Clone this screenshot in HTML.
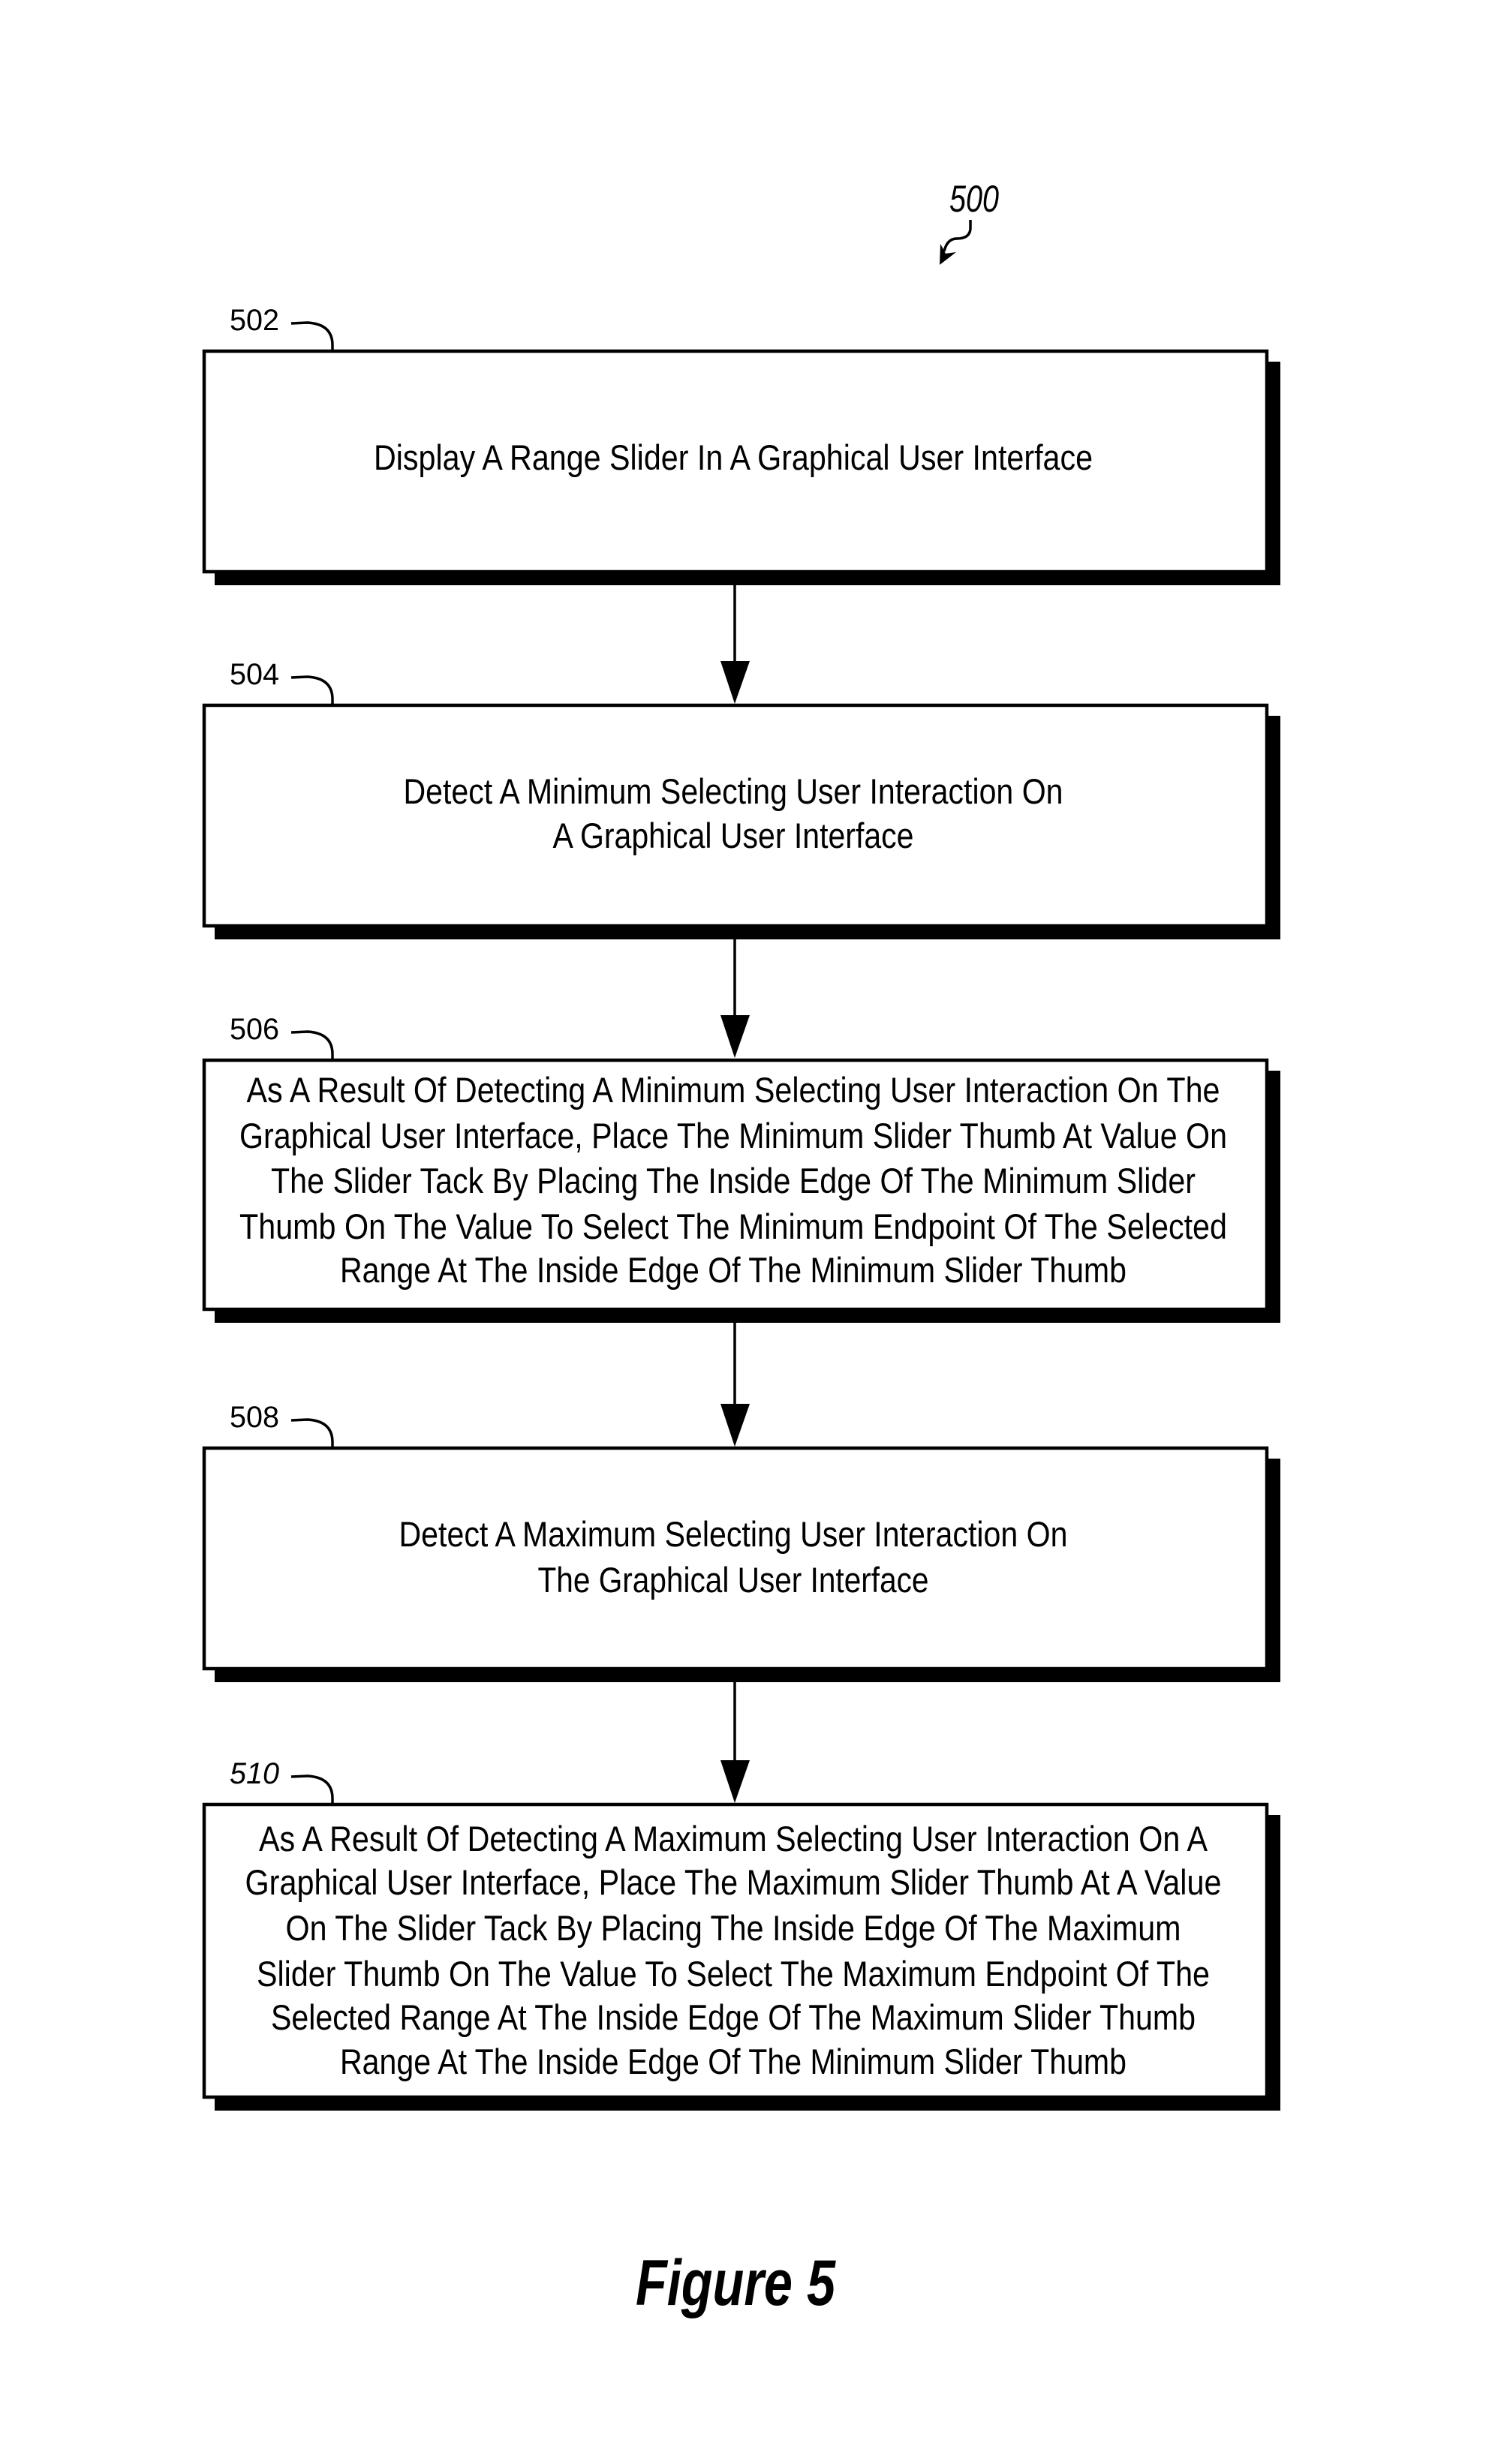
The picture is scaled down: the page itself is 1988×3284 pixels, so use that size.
<!DOCTYPE html>
<html><head><meta charset="utf-8"><style>html,body{margin:0;padding:0;background:#fff}svg{display:block}</style></head>
<body>
<svg width="1988" height="3284" viewBox="0 0 1988 3284" xmlns="http://www.w3.org/2000/svg" font-family="Liberation Sans, Arial, sans-serif">
<rect width="1988" height="3284" fill="#fff"/>
<g fill="#000" stroke="none">
<rect x="286" y="482" width="1420" height="298"/>
<rect x="286" y="954" width="1420" height="298"/>
<rect x="286" y="1427" width="1420" height="336"/>
<rect x="286" y="1944" width="1420" height="298"/>
<rect x="286" y="2419" width="1420" height="394"/>
</g>
<g fill="#fff" stroke="#000" stroke-width="4.5">
<rect x="272" y="468" width="1416" height="294"/>
<rect x="272" y="940" width="1416" height="294"/>
<rect x="272" y="1413" width="1416" height="332"/>
<rect x="272" y="1930" width="1416" height="294"/>
<rect x="272" y="2405" width="1416" height="390"/>
</g>
<g stroke="#000" stroke-width="3.5" fill="none">
<line x1="979" y1="780" x2="979" y2="890"/>
<line x1="979" y1="1252" x2="979" y2="1362"/>
<line x1="979" y1="1763" x2="979" y2="1880"/>
<line x1="979" y1="2242" x2="979" y2="2355"/>
<path d="M388 431 L410 430 Q443 432 443 460 L443 468"/>
<path d="M388 903 L410 902 Q443 904 443 932 L443 940"/>
<path d="M388 1376 L410 1375 Q443 1377 443 1405 L443 1413"/>
<path d="M388 1893 L410 1892 Q443 1894 443 1922 L443 1930"/>
<path d="M388 2368 L410 2367 Q443 2369 443 2397 L443 2405"/>
<path d="M1293 293 L1293 305 Q1292 318 1275 318 Q1262 318 1258 335"/>
</g>
<g fill="#000">
<polygon points="960,881 999,881 979,938"/>
<polygon points="960,1353 999,1353 979,1410"/>
<polygon points="960,1871 999,1871 979,1928"/>
<polygon points="960,2346 999,2346 979,2403"/>
<polygon points="1252,353 1253,325 1260,338 1274,336"/>
</g>
<g font-size="40" fill="#000">
<text x="306" y="440" textLength="66" lengthAdjust="spacingAndGlyphs">502</text>
<text x="306" y="912" textLength="66" lengthAdjust="spacingAndGlyphs">504</text>
<text x="306" y="1385" textLength="66" lengthAdjust="spacingAndGlyphs">506</text>
<text x="306" y="1902" textLength="66" lengthAdjust="spacingAndGlyphs">508</text>
<text x="306" y="2377" textLength="66" lengthAdjust="spacingAndGlyphs" font-style="italic">510</text>
<text x="1265" y="282" font-size="50" font-style="italic" textLength="66" lengthAdjust="spacingAndGlyphs">500</text>
</g>
<g font-size="47" fill="#000" text-anchor="middle">
<text x="977" y="626" textLength="958" lengthAdjust="spacingAndGlyphs">Display A Range Slider In A Graphical User Interface</text>
<text x="977" y="1071" textLength="879" lengthAdjust="spacingAndGlyphs">Detect A Minimum Selecting User Interaction On</text>
<text x="977" y="1130" textLength="481" lengthAdjust="spacingAndGlyphs">A Graphical User Interface</text>
<text x="977" y="1469" textLength="1297" lengthAdjust="spacingAndGlyphs">As A Result Of Detecting A Minimum Selecting User Interaction On The</text>
<text x="977" y="1530" textLength="1316" lengthAdjust="spacingAndGlyphs">Graphical User Interface, Place The Minimum Slider Thumb At Value On</text>
<text x="977" y="1590" textLength="1232" lengthAdjust="spacingAndGlyphs">The Slider Tack By Placing The Inside Edge Of The Minimum Slider</text>
<text x="977" y="1651" textLength="1316" lengthAdjust="spacingAndGlyphs">Thumb On The Value To Select The Minimum Endpoint Of The Selected</text>
<text x="977" y="1709" textLength="1048" lengthAdjust="spacingAndGlyphs">Range At The Inside Edge Of The Minimum Slider Thumb</text>
<text x="977" y="2061" textLength="891" lengthAdjust="spacingAndGlyphs">Detect A Maximum Selecting User Interaction On</text>
<text x="977" y="2122" textLength="521" lengthAdjust="spacingAndGlyphs">The Graphical User Interface</text>
<text x="977" y="2467" textLength="1264" lengthAdjust="spacingAndGlyphs">As A Result Of Detecting A Maximum Selecting User Interaction On A</text>
<text x="977" y="2525" textLength="1301" lengthAdjust="spacingAndGlyphs">Graphical User Interface, Place The Maximum Slider Thumb At A Value</text>
<text x="977" y="2586" textLength="1193" lengthAdjust="spacingAndGlyphs">On The Slider Tack By Placing The Inside Edge Of The Maximum</text>
<text x="977" y="2647" textLength="1270" lengthAdjust="spacingAndGlyphs">Slider Thumb On The Value To Select The Maximum Endpoint Of The</text>
<text x="977" y="2705" textLength="1232" lengthAdjust="spacingAndGlyphs">Selected Range At The Inside Edge Of The Maximum Slider Thumb</text>
<text x="977" y="2764" textLength="1048" lengthAdjust="spacingAndGlyphs">Range At The Inside Edge Of The Minimum Slider Thumb</text>
</g>
<text x="980" y="3072" font-size="86" font-weight="bold" font-style="italic" text-anchor="middle" textLength="266" lengthAdjust="spacingAndGlyphs">Figure 5</text>
</svg>
</body></html>
